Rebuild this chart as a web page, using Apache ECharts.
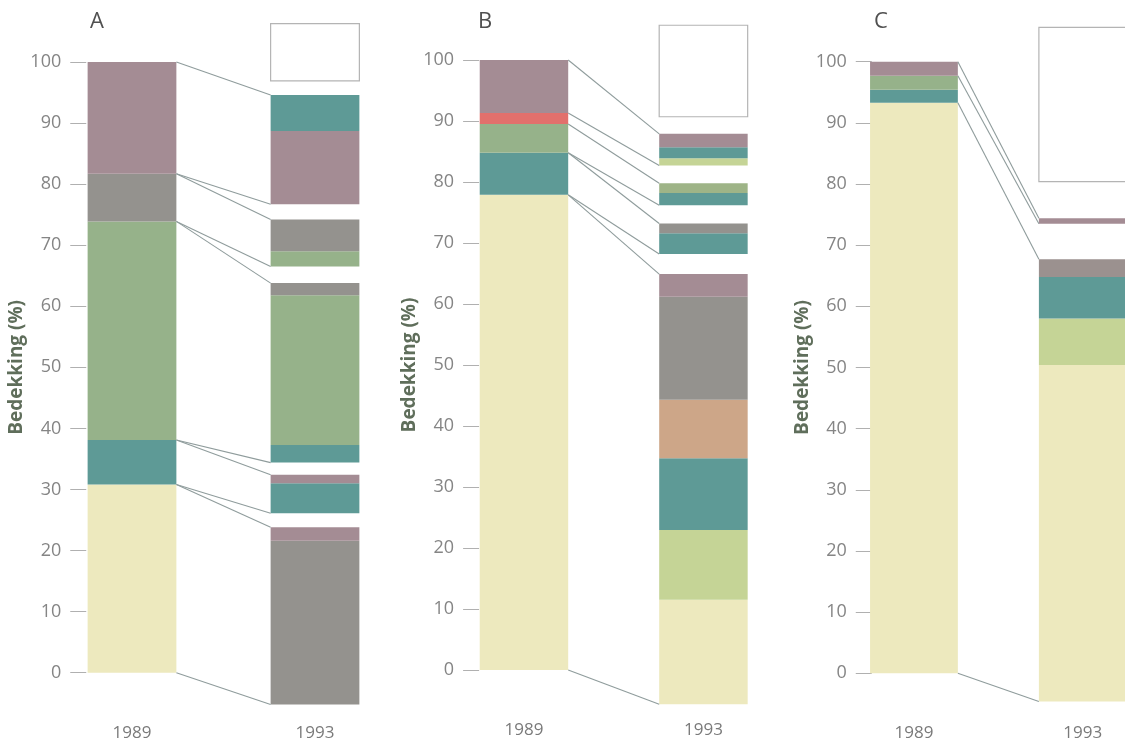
<!DOCTYPE html>
<html><head><meta charset="utf-8">
<script src="https://cdn.jsdelivr.net/npm/echarts@6/dist/echarts.min.js"></script>
<style>html,body{margin:0;padding:0;background:#fff}#c{width:1125px;height:743px}</style>
</head><body><div id="c"></div>
<script>
// ---------- data ----------
const panelTitles = ['A', 'B', 'C'];
const years = ['1989', '', '1993'];
const yTicks = [0, 10, 20, 30, 40, 50, 60, 70, 80, 90, 100];
const yName = 'Bedekking (%)';

// Panel A — 1989 column (bottom to top)
const a1989Classes = ['cream', 'teal', 'green', 'gray', 'mauve'];
const a1989Values  = [30.8, 7.3, 35.8, 7.8, 18.3];
// Panel A — 1993 column (bottom to top, starting at base; 'gap' = empty space, 'box' = empty frame)
const a1993Base    = -5.2;
const a1993Classes = ['gray', 'mauve', 'gap', 'teal', 'mauve', 'gap', 'teal', 'green', 'gray', 'gap', 'green', 'gray', 'gap', 'mauve', 'teal', 'gap', 'box'];
const a1993Values  = [26.8, 2.2, 2.3, 4.9, 1.4, 2.0, 2.9, 24.5, 2.0, 2.7, 2.5, 5.2, 2.5, 12.0, 5.9, 2.3, 9.4];
// Panel A — connector lines [1989 level, 1993 level]
const aLinks = [[0, -5.2], [30.8, 23.8], [30.8, 26.1], [38.1, 32.4], [38.1, 34.4], [73.9, 63.8], [73.9, 66.5], [81.7, 74.2], [81.7, 76.7], [100, 94.6]];

// Panel B
const b1989Classes = ['cream', 'teal', 'green', 'red', 'mauve'];
const b1989Values  = [77.9, 6.9, 4.7, 1.8, 8.7];
const b1993Base    = -5.6;
const b1993Classes = ['cream', 'lime', 'teal', 'tan', 'gray', 'mauve', 'gap', 'teal', 'gray', 'gap', 'teal', 'olive', 'gap', 'lime', 'teal', 'mauve', 'gap', 'box'];
const b1993Values  = [17.1, 11.45, 11.75, 9.6, 16.9, 3.7, 3.3, 3.4, 1.6, 3.0, 2.0, 1.6, 2.9, 1.2, 1.8, 2.2, 2.8, 15.0];
const bLinks = [[0, -5.6], [77.9, 64.9], [77.9, 68.2], [84.8, 73.2], [84.8, 76.2], [89.5, 79.8], [91.3, 82.7], [100, 87.9]];

// Panel C
const c1989Classes = ['cream', 'teal', 'green', 'mauve'];
const c1989Values  = [93.3, 2.1, 2.3, 2.3];
const c1993Base    = -4.6;
const c1993Classes = ['cream', 'lime', 'teal', 'grayMauve', 'gap', 'mauve', 'gap', 'box'];
const c1993Values  = [55.0, 7.6, 6.8, 2.9, 5.8, 0.9, 6.0, 25.2];
const cLinks = [[0, -4.6], [93.3, 67.7], [97.7, 73.5], [100, 74.4]];

// ---------- styles ----------
const COLORS = {
  cream: '#ede9be', teal: '#5e9a96', green: '#96b28a', gray: '#94928e',
  mauve: '#a48c94', red: '#e2706c', lime: '#c5d496', tan: '#cda688', olive: '#9eb487',
  grayMauve: '#9b918f'
};
const LAYOUT = [
  { left: 86.25, width: 274.5, top: 19.3, height: 696.1, ratio: 0.97, titleLeft: 85 },
  { left: 479.1, width: 269.2, top: 17.3, height: 695.4, ratio: 0.986, titleLeft: 473 },
  { left: 871.75, width: 253.5, top: 18.9, height: 697.2, ratio: 1.04, titleLeft: 869 }
];
const Y_MIN = -7, Y_MAX = 107;

// ---------- build ----------
const panels = [
  { c89: a1989Classes, v89: a1989Values, base: a1993Base, c93: a1993Classes, v93: a1993Values, links: aLinks },
  { c89: b1989Classes, v89: b1989Values, base: b1993Base, c93: b1993Classes, v93: b1993Values, links: bLinks },
  { c89: c1989Classes, v89: c1989Values, base: c1993Base, c93: c1993Classes, v93: c1993Values, links: cLinks }
];

function stackRects(catIdx, base, classes, values) {
  const out = [];
  let lo = base;
  classes.forEach((cl, i) => {
    const hi = lo + values[i];
    if (cl !== 'gap') out.push([catIdx, lo, hi, cl]);
    lo = hi;
  });
  return out;
}

const grid = [], xAxis = [], yAxis = [], series = [], title = [];
panels.forEach((p, i) => {
  const L = LAYOUT[i];
  grid.push({ left: L.left, width: L.width, top: L.top, height: L.height, containLabel: false });
  title.push({ text: panelTitles[i], left: L.titleLeft, top: 6,
    textStyle: { fontFamily: 'Open Sans', fontSize: 22, fontWeight: 'normal', color: '#505050' } });
  xAxis.push({
    gridIndex: i, type: 'category', data: years, boundaryGap: true,
    axisLine: { show: false }, axisTick: { show: false }, splitLine: { show: false },
    axisLabel: { color: '#7a7a7a', fontSize: 17, fontFamily: 'Open Sans', margin: 9, interval: 0 }
  });
  yAxis.push({
    gridIndex: i, type: 'value', min: Y_MIN, max: Y_MAX,
    name: yName, nameLocation: 'middle', nameGap: 60,
    nameTextStyle: { color: '#5f6e5b', fontSize: 19, fontWeight: 'bold', fontFamily: 'Open Sans' },
    axisLine: { show: false },
    axisTick: { show: true, length: 16, customValues: yTicks, lineStyle: { color: '#b0b0b0', width: 1 } },
    axisLabel: { customValues: yTicks, margin: 25, color: '#858585', fontSize: 18, fontFamily: 'Open Sans' },
    splitLine: { show: false }
  });
  const rects = stackRects(0, 0, p.c89, p.v89).concat(stackRects(2, p.base, p.c93, p.v93));
  const ratio = L.ratio;
  series.push({
    type: 'custom', xAxisIndex: i, yAxisIndex: i, clip: false,
    data: rects,
    encode: { x: 0, y: [1, 2] },
    renderItem: function (params, api) {
      const c = api.value(0);
      const top = api.coord([c, api.value(2)]);
      const bot = api.coord([c, api.value(1)]);
      const bw = api.size([1, 0])[0] * ratio;
      const cl = rects[params.dataIndex][3];
      const isBox = cl === 'box';
      return {
        type: 'rect',
        shape: { x: top[0] - bw / 2, y: top[1], width: bw, height: bot[1] - top[1] },
        style: isBox ? { fill: '#fff', stroke: '#b4b4b4', lineWidth: 1.2 } : { fill: COLORS[cl] }
      };
    }
  });
  series.push({
    type: 'custom', xAxisIndex: i, yAxisIndex: i, clip: false,
    data: p.links,
    encode: { y: [0, 1] },
    renderItem: function (params, api) {
      const a = api.coord([0, api.value(0)]);
      const b = api.coord([2, api.value(1)]);
      const bw = api.size([1, 0])[0] * ratio;
      return {
        type: 'line',
        shape: { x1: a[0] + bw / 2, y1: a[1], x2: b[0] - bw / 2, y2: b[1] },
        style: { stroke: '#8f9c9c', lineWidth: 1.1 }
      };
    }
  });
});

const chart = echarts.init(document.getElementById('c'), null, { renderer: 'canvas' });
chart.setOption({
  animation: false,
  backgroundColor: '#fff',
  textStyle: { fontFamily: 'Open Sans' },
  title, grid, xAxis, yAxis, series
});
</script></body></html>
